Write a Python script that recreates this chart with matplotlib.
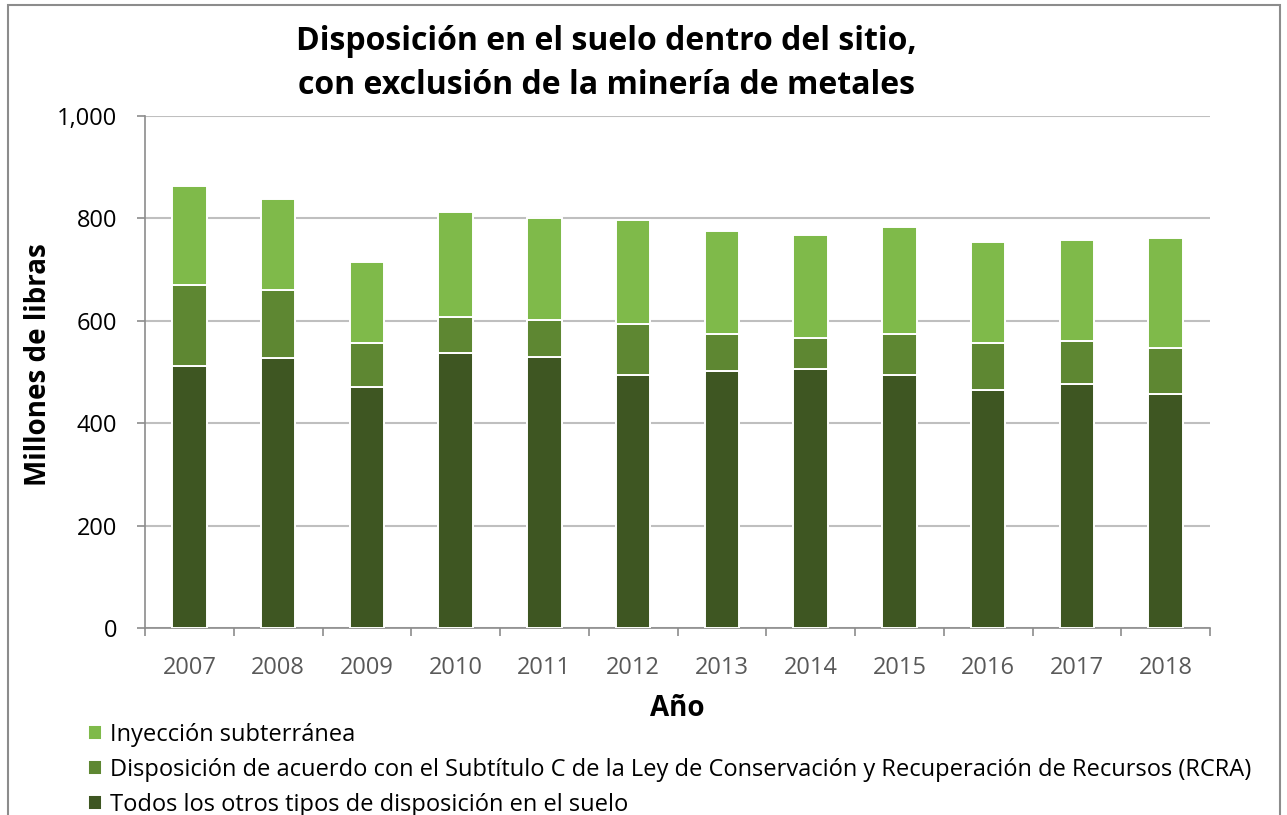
import matplotlib.pyplot as plt
import numpy as np
from matplotlib.patches import Rectangle

anios = ["2007", "2008", "2009", "2010", "2011", "2012",
         "2013", "2014", "2015", "2016", "2017", "2018"]
otros = [512, 528, 471, 538, 530, 494, 501, 506, 494, 464, 476, 457]
rcra = [158, 132, 86, 70, 72, 99, 73, 61, 80, 92, 85, 89]
inyeccion = [194, 178, 158, 205, 198, 203, 201, 201, 210, 198, 197, 216]

c_claro = "#7fba4a"
c_medio = "#5e8732"
c_oscuro = "#3e5622"

plt.rcParams['font.family'] = ['Open Sans', 'DejaVu Sans']

fig = plt.figure(figsize=(12.87, 8.15), dpi=100)
ax = fig.add_axes([145 / 1287, 1 - 628 / 815, (1210 - 145) / 1287, (628 - 116) / 815])

x = np.arange(len(anios))
ancho = 0.39
base2 = np.array(otros)
base3 = base2 + np.array(rcra)
ax.bar(x, otros, ancho, color=c_oscuro, edgecolor="white", linewidth=1.4,
       label="Todos los otros tipos de disposición en el suelo", zorder=3)
ax.bar(x, rcra, ancho, bottom=base2, color=c_medio, edgecolor="white", linewidth=1.4,
       label="Disposición de acuerdo con el Subtítulo C de la Ley de Conservación y Recuperación de Recursos (RCRA)",
       zorder=3)
ax.bar(x, inyeccion, ancho, bottom=base3, color=c_claro, edgecolor="white", linewidth=1.4,
       label="Inyección subterránea", zorder=3)

ax.set_xlim(-0.5, len(anios) - 0.5)
ax.set_ylim(0, 1000)
ax.set_yticks(range(0, 1001, 200))
ax.set_yticklabels([f"{v:,}" for v in range(0, 1001, 200)], fontsize=17, color="#000000")
ax.set_xticks(x)
ax.set_xticklabels(anios, fontsize=17, color="#595959")
ax.set_xticks(np.arange(-0.5, len(anios), 1), minor=True)
ax.tick_params(axis="x", which="major", length=0, pad=20)
ax.tick_params(axis="x", which="minor", length=6, color="#8c8c8c", width=1.2)
ax.tick_params(axis="y", length=6, color="#8c8c8c", width=1.2, pad=14)

ax.grid(axis="y", color="#bfbfbf", linewidth=1.5, zorder=0)
for s in ["top", "right"]:
    ax.spines[s].set_visible(False)
for s in ["left", "bottom"]:
    ax.spines[s].set_color("#8c8c8c")
    ax.spines[s].set_linewidth(1.2)

ax.set_ylabel("Millones de libras", fontsize=20, fontweight="bold")
ax.yaxis.set_label_coords(-0.086, 0.515)
ax.set_xlabel("Año", fontsize=20, fontweight="bold", labelpad=10)

fig.text(0.471, 0.922, "Disposición en el suelo dentro del sitio,\ncon exclusión de la minería de metales",
         ha="center", va="center", fontsize=23, fontweight="bold", linespacing=1.45)

handles, labels = ax.get_legend_handles_labels()
fig.legend(handles[::-1], labels[::-1], loc="upper left", bbox_to_anchor=(88 / 1287, 1 - 723 / 815),
           frameon=False, fontsize=17, handlelength=0.6, handleheight=0.6, handletextpad=0.35,
           labelspacing=0.47, borderaxespad=0, borderpad=0)

fig.patches.append(Rectangle((8 / 1287, -0.1), (1280 - 8) / 1287, 1.1 - 5 / 815,
                             transform=fig.transFigure, fill=False, edgecolor="#8c8c8c",
                             linewidth=1.5))

fig.savefig("out.png", dpi=100)
